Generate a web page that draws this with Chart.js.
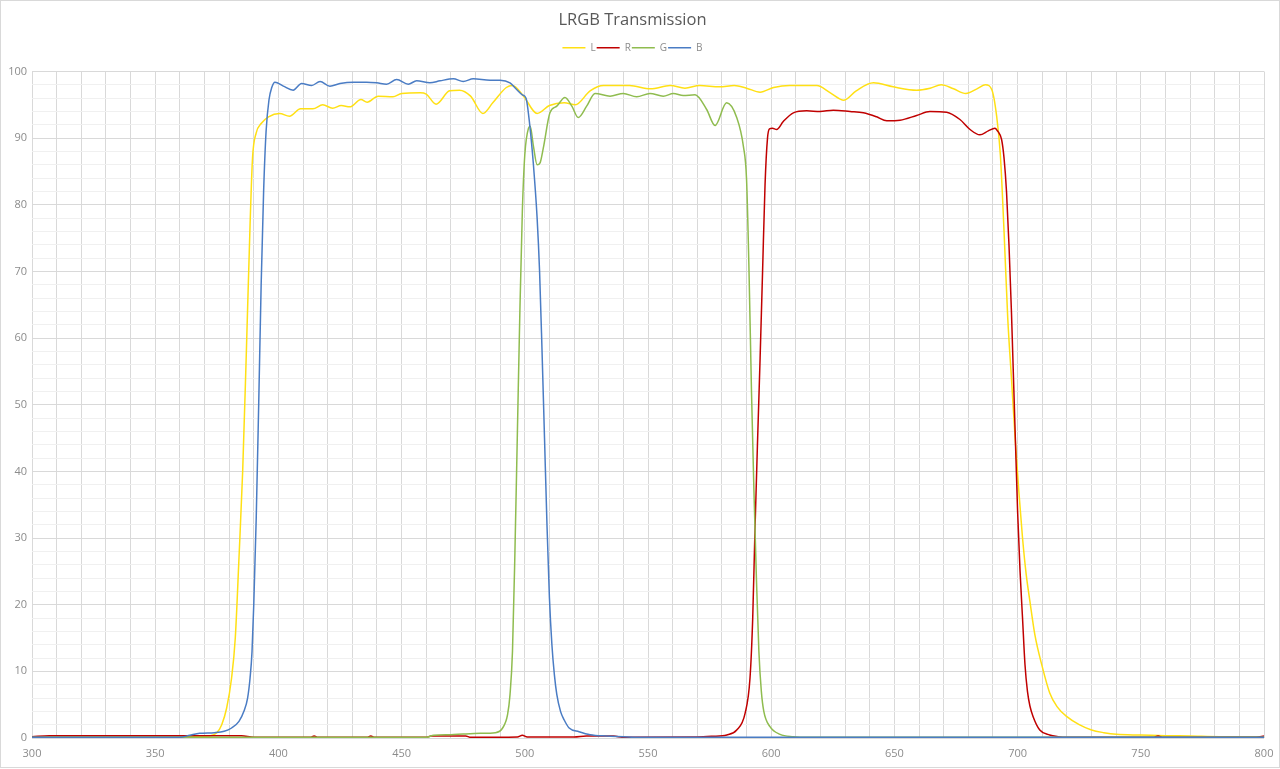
<!DOCTYPE html>
<html>
<head>
<meta charset="utf-8">
<script src="https://cdn.jsdelivr.net/npm/chart.js@4.4.1/dist/chart.umd.min.js"></script>
<style>
  html, body { margin: 0; padding: 0; background: #fff; }
  #wrap { width: 1278px; height: 766px; border: 1px solid #d9d9d9; position: relative; }
</style>
</head>
<body>
<div id="wrap"><canvas id="myChart"></canvas></div>
<script>
// wavelengths (nm) and transmission (%), per filter
var lNm = [300, 330, 360, 372, 375, 377, 379, 381, 382.5, 384, 385.5, 387, 388.5, 389.5, 391, 393, 396, 400.5, 404.5, 409, 414, 418, 422, 425.5, 429, 433.5, 436, 440.5, 446.5, 450, 457.5, 460, 464, 469.5, 473.5, 478, 483, 487, 492.5, 495, 499.5, 505, 510, 516, 520.5, 526.5, 532, 542.5, 551, 559, 565, 571, 579, 585, 590, 595.5, 601, 607.5, 612, 618.5, 624, 629.5, 634.5, 641.5, 649.5, 659, 664.5, 669, 674, 679, 683.5, 687, 689.5, 691.5, 693, 694.5, 696, 697.5, 699, 700.5, 702, 703.5, 705, 707, 710, 713, 716, 720, 725, 730, 735, 740, 750, 760, 770, 782, 800];
var lVal = [0.2, 0.2, 0.2, 0.3, 0.8, 2, 4.5, 9, 15, 27, 40, 58, 77, 87, 90.8, 92.2, 93.2, 93.7, 93.3, 94.4, 94.4, 95.0, 94.5, 94.9, 94.7, 95.8, 95.4, 96.3, 96.2, 96.7, 96.8, 96.6, 95.1, 97.1, 97.2, 96.3, 93.7, 95.3, 97.6, 97.9, 96.3, 93.7, 94.9, 95.3, 95.0, 97.1, 97.9, 97.9, 97.4, 97.9, 97.5, 97.9, 97.7, 97.9, 97.5, 96.9, 97.6, 97.9, 97.9, 97.9, 96.8, 95.7, 97.1, 98.3, 97.7, 97.2, 97.5, 98.0, 97.4, 96.7, 97.4, 98.0, 97.3, 93.3, 87.5, 76, 63, 54, 45, 37, 30, 24.5, 20.5, 15.5, 10.7, 6.8, 4.7, 3.2, 2.0, 1.2, 0.8, 0.55, 0.45, 0.35, 0.3, 0.2, 0.2];

var rNm = [300, 307, 385, 390, 413, 414.5, 416, 436, 437.5, 439, 460, 462, 476, 478, 497, 499, 501, 520, 525, 536, 540, 570, 576, 582, 586, 589.4, 591.4, 592.5, 593.4, 594.5, 595.5, 596.5, 597.5, 598.5, 599.3, 600.5, 602.2, 604.9, 609, 614.4, 619.8, 625.2, 632, 637.4, 642.8, 646.9, 652.3, 659, 664.4, 671.2, 676.6, 680.7, 684.7, 688.1, 690.8, 692, 693.5, 694.5, 695.5, 696.5, 697.5, 698, 699, 700, 701, 702, 703, 704, 705, 706.3, 709, 713, 716.4, 720, 755, 757, 759, 797, 800];
var rVal = [0.2, 0.35, 0.35, 0.1, 0.1, 0.3, 0.1, 0.1, 0.3, 0.1, 0.1, 0.3, 0.3, 0.1, 0.15, 0.4, 0.15, 0.15, 0.3, 0.3, 0.1, 0.15, 0.25, 0.45, 1.2, 3.7, 9, 18, 31, 45, 57, 70, 83, 90, 91.4, 91.5, 91.3, 92.5, 93.8, 94.1, 94.0, 94.2, 94.0, 93.8, 93.2, 92.6, 92.7, 93.4, 94.0, 93.9, 92.8, 91.3, 90.5, 91.1, 91.5, 91.0, 89.8, 87, 82, 74, 64, 58, 46, 34, 25, 18, 11, 7, 4.8, 3.2, 1.2, 0.45, 0.2, 0.1, 0.1, 0.3, 0.1, 0.1, 0.3];

var gNm = [300, 390, 460, 463, 470, 475, 482, 488, 491, 493, 494, 495, 496, 497, 498, 499, 500, 501.5, 502.2, 503.5, 505, 506.2, 507.5, 510.2, 513, 516.3, 519.1, 521.7, 525.1, 528.5, 534.6, 540, 545.4, 550.8, 556.2, 560.3, 564.3, 569.1, 573.8, 577.2, 581.9, 586, 588.7, 590, 591, 592, 593, 594, 595, 596, 597, 599.5, 603.6, 609, 615, 800];
var gVal = [0.1, 0.1, 0.1, 0.4, 0.5, 0.6, 0.7, 0.8, 1.5, 3.5, 6.5, 13, 28, 46, 64, 79, 87.5, 91.5, 91.8, 88.8, 86, 86.3, 88.5, 93.8, 94.8, 96.1, 94.8, 93.1, 94.8, 96.7, 96.3, 96.7, 96.2, 96.7, 96.3, 96.7, 96.4, 96.5, 94.3, 91.9, 95.3, 93.1, 88.8, 83.8, 70, 52, 37, 24, 13, 7, 4, 1.7, 0.55, 0.2, 0.1, 0.1];

var bNm = [300, 360, 364, 368, 374, 378, 381, 384, 386, 387.5, 388.5, 389.3, 390, 391, 392, 393, 394, 395, 396.2, 397.3, 398.6, 402, 406, 409.4, 413.5, 416.9, 420.9, 425, 430.4, 435.8, 439.9, 443.9, 448, 452.7, 456.1, 461.5, 465.6, 471, 475, 479.1, 485.9, 490, 494, 496.7, 499, 500.5, 502, 503.5, 505, 506, 507, 508, 509, 510, 511, 512, 513, 514.5, 516, 518, 522, 526.5, 533, 540, 546, 800];
var bVal = [0.1, 0.1, 0.4, 0.7, 0.8, 1.0, 1.5, 2.5, 4, 6, 9, 13, 20, 33, 50, 68, 82, 91, 95.8, 97.6, 98.4, 97.8, 97.2, 98.2, 97.9, 98.5, 97.8, 98.2, 98.4, 98.4, 98.3, 98.1, 98.8, 98.1, 98.6, 98.3, 98.6, 98.9, 98.5, 98.9, 98.7, 98.7, 98.3, 97.3, 96.5, 96.0, 92, 86, 78, 70, 58, 45, 32, 21, 14, 9.5, 6.5, 4, 2.7, 1.5, 0.95, 0.5, 0.3, 0.2, 0.1, 0.1];

var seriesNames = ["L", "R", "G", "B"];
var seriesColors = ["#FFE014", "#C00000", "#8FBC4F", "#4A7CC4"];

function pts(xs, ys) {
  return xs.map(function (x, i) { return { x: x, y: ys[i] }; });
}

var allData = [pts(lNm, lVal), pts(rNm, rVal), pts(gNm, gVal), pts(bNm, bVal)];

var ctx = document.getElementById("myChart");

var myChart = new Chart(ctx, {
  type: "line",
  data: {
    datasets: seriesNames.map(function (name, i) {
      return {
        label: name,
        data: allData[i],
        borderColor: seriesColors[i],
        backgroundColor: seriesColors[i],
        borderWidth: 1.5,
        pointRadius: 0,
        fill: false,
        cubicInterpolationMode: "monotone",
        order: 4 - i
      };
    })
  },
  options: {
    responsive: true,
    maintainAspectRatio: false,
    animation: false,
    layout: { padding: { left: 0, right: 15, top: 0, bottom: 0 } },
    plugins: {
      title: {
        display: true,
        text: "LRGB Transmission",
        color: "#595959",
        font: { family: "Open Sans", size: 16.5, weight: "normal" },
        padding: { top: 9, bottom: 12 }
      },
      // empty spacer under the legend so the plot starts where the reference does
      subtitle: {
        display: true,
        text: "",
        weight: 500,
        font: { size: 1 },
        padding: { top: 0, bottom: 7.5 }
      },
      legend: {
        position: "top",
        labels: {
          usePointStyle: true,
          pointStyle: "line",
          pointStyleWidth: 23,
          color: "#8c8c8c",
          font: { family: "Open Sans", size: 10 },
          padding: 1,
          sort: function (a, b) { return a.datasetIndex - b.datasetIndex; }
        }
      },
      tooltip: { enabled: false }
    },
    scales: {
      x: {
        type: "linear",
        min: 300,
        max: 800,
        afterFit: function (s) { s.height = 29; s.paddingLeft = 0; s.paddingRight = 0; },
        border: { display: false },
        grid: { color: "#d9d9d9", lineWidth: 1, drawTicks: false },
        ticks: {
          stepSize: 10,
          autoSkip: false,
          maxRotation: 0,
          padding: 9,
          color: "#8c8c8c",
          font: { family: "Open Sans", size: 11 },
          callback: function (v) { return v % 50 === 0 ? v : ""; }
        }
      },
      y: {
        min: 0,
        max: 100,
        afterFit: function (s) { s.width = 31; },
        border: { display: false },
        grid: {
          drawTicks: false,
          color: function (c) { return c.tick && c.tick.value % 10 === 0 ? "#d9d9d9" : "#f0f0f0"; }
        },
        ticks: {
          stepSize: 2,
          autoSkip: false,
          padding: 5,
          color: "#8c8c8c",
          font: { family: "Open Sans", size: 11 },
          callback: function (v) { return v % 10 === 0 ? v : ""; }
        }
      }
    }
  }
});
</script>
</body>
</html>
